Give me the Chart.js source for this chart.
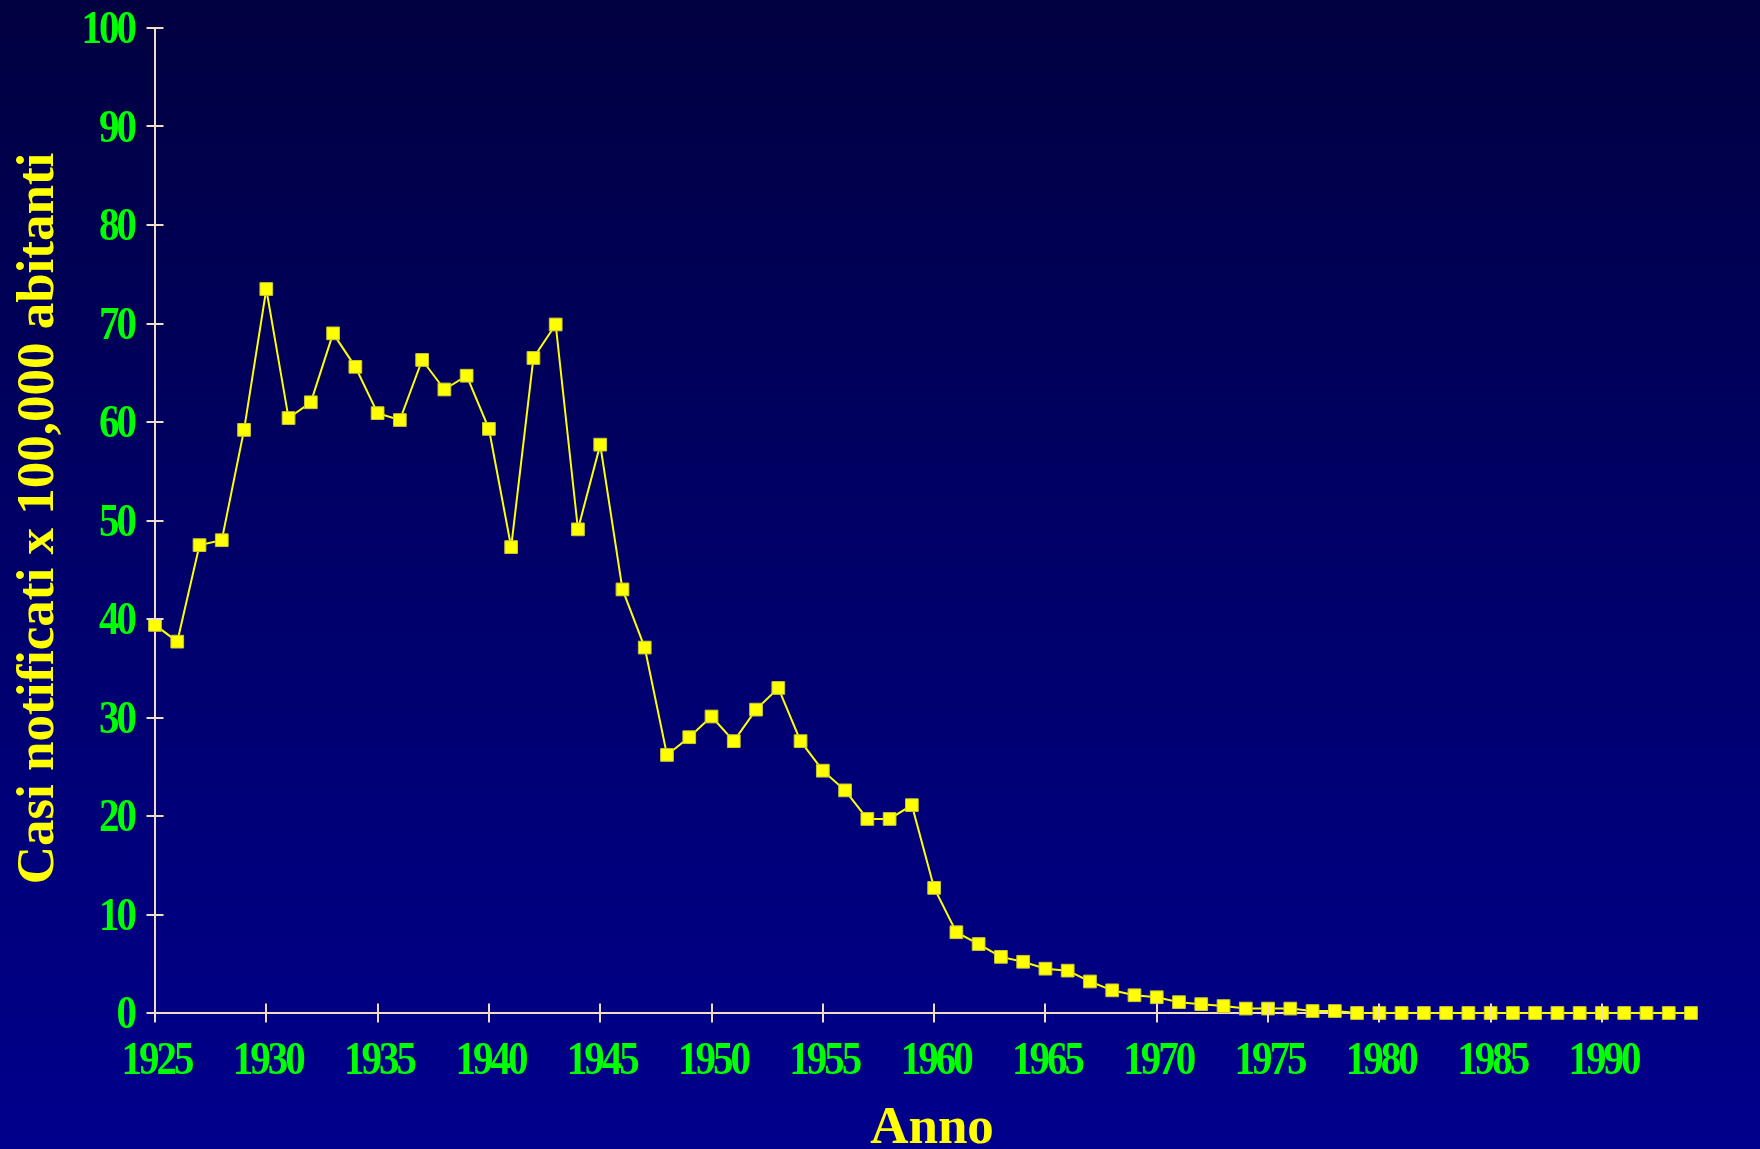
<!DOCTYPE html>
<html lang="it">
<head>
<meta charset="utf-8">
<title>Casi notificati x 100,000 abitanti</title>
<script src="https://cdn.jsdelivr.net/npm/chart.js@4/dist/chart.umd.min.js"></script>
<style>
  html, body { margin: 0; padding: 0; overflow: hidden; }
  body {
    width: 1760px; height: 1149px;
    background: linear-gradient(to bottom, #000040 0%, #00006A 50%, #00008C 100%);
  }
  canvas { display: block; }
</style>
</head>
<body>
<canvas id="chart" width="1760" height="1149"></canvas>
<script>
// Anni di osservazione
const years = [
  1925, 1926, 1927, 1928, 1929, 1930, 1931, 1932, 1933, 1934,
  1935, 1936, 1937, 1938, 1939, 1940, 1941, 1942, 1943, 1944,
  1945, 1946, 1947, 1948, 1949, 1950, 1951, 1952, 1953, 1954,
  1955, 1956, 1957, 1958, 1959, 1960, 1961, 1962, 1963, 1964,
  1965, 1966, 1967, 1968, 1969, 1970, 1971, 1972, 1973, 1974,
  1975, 1976, 1977, 1978, 1979, 1980, 1981, 1982, 1983, 1984,
  1985, 1986, 1987, 1988, 1989, 1990, 1991, 1992, 1993, 1994
];

// Casi notificati per 100.000 abitanti
const cases = [
  39.4, 37.7, 47.5, 48.0, 59.2, 73.5, 60.4, 62.0, 69.0, 65.6,
  60.9, 60.2, 66.3, 63.3, 64.7, 59.3, 47.3, 66.5, 69.9, 49.1,
  57.7, 43.0, 37.1, 26.2, 28.0, 30.1, 27.6, 30.8, 33.0, 27.6,
  24.6, 22.6, 19.7, 19.7, 21.1, 12.7, 8.2, 7.0, 5.7, 5.2,
  4.5, 4.3, 3.2, 2.3, 1.8, 1.6, 1.1, 0.9, 0.7, 0.45,
  0.45, 0.45, 0.2, 0.2, 0, 0, 0, 0, 0, 0,
  0, 0, 0, 0, 0, 0, 0, 0, 0, 0
];

// Etichette degli assi
const xTitle = 'Anno';
const yTitle = 'Casi notificati x 100,000 abitanti';

const AXIS = '#F2DCC4';
const TICK_FONT = 'bold 41px "Liberation Serif", "Times New Roman", serif';
const TITLE_FONT = 'bold 53px "Liberation Serif", "Times New Roman", serif';
const TICK_STRETCH = 1.15;   // cifre alte e strette

// Tacche a croce sugli assi, disegnate sopra i marcatori
const crossTicks = {
  id: 'crossTicks',
  afterDatasetsDraw(chart) {
    const { ctx, chartArea, scales } = chart;
    ctx.save();
    ctx.strokeStyle = AXIS;
    ctx.lineWidth = 2;
    ctx.beginPath();
    scales.x.ticks.forEach(t => {
      const px = Math.round(scales.x.getPixelForValue(t.value));
      ctx.moveTo(px, chartArea.bottom - 9.5);
      ctx.lineTo(px, chartArea.bottom + 9.5);
    });
    scales.y.ticks.forEach(t => {
      const py = Math.round(scales.y.getPixelForValue(t.value));
      ctx.moveTo(chartArea.left - 8.5, py);
      ctx.lineTo(chartArea.left + 8.5, py);
    });
    ctx.stroke();
    ctx.restore();
  }
};

// Etichette numeriche delle tacche, in verde
const tickLabels = {
  id: 'tickLabels',
  afterDraw(chart) {
    const { ctx, chartArea, scales } = chart;
    ctx.save();
    ctx.letterSpacing = '-3px';
    ctx.font = TICK_FONT;
    ctx.fillStyle = '#00FF00';
    ctx.textBaseline = 'alphabetic';

    ctx.textAlign = 'center';
    scales.x.ticks.forEach(t => {
      const px = scales.x.getPixelForValue(t.value);
      ctx.save();
      ctx.translate(px + 1.5, chartArea.bottom + 61);
      ctx.scale(1, TICK_STRETCH);
      ctx.fillText(String(t.value), 0, 0);
      ctx.restore();
    });

    ctx.textAlign = 'right';
    scales.y.ticks.forEach(t => {
      const py = scales.y.getPixelForValue(t.value);
      ctx.save();
      ctx.translate(chartArea.left - 21, py + 15);
      ctx.scale(1, TICK_STRETCH);
      ctx.fillText(String(t.value), 0, 0);
      ctx.restore();
    });
    ctx.restore();
  }
};

// Titoli degli assi in giallo
const axisTitles = {
  id: 'axisTitles',
  afterDraw(chart) {
    const { ctx, chartArea } = chart;
    ctx.save();
    ctx.letterSpacing = '0px';
    ctx.font = TITLE_FONT;
    ctx.fillStyle = '#FFFF00';
    ctx.textAlign = 'center';
    ctx.textBaseline = 'alphabetic';
    ctx.fillText(xTitle, (chartArea.left + chartArea.right) / 2 + 9, 1143);
    ctx.translate(53, (chartArea.top + chartArea.bottom) / 2 - 2);
    ctx.rotate(-Math.PI / 2);
    ctx.fillText(yTitle, 0, 0);
    ctx.restore();
  }
};

new Chart(document.getElementById('chart'), {
  type: 'line',
  data: {
    datasets: [{
      data: years.map((y, i) => ({ x: y, y: cases[i] })),
      borderColor: '#FFFF00',
      borderWidth: 2,
      tension: 0,
      pointStyle: 'rect',
      pointRadius: 9,
      pointBackgroundColor: '#FFFF00',
      pointBorderColor: '#C8C830',
      pointBorderWidth: 1,
      clip: false
    }]
  },
  options: {
    responsive: false,
    animation: false,
    devicePixelRatio: 1,
    layout: { padding: { top: 28, right: 69, left: 0, bottom: 0 } },
    plugins: { legend: { display: false }, tooltip: { enabled: false } },
    scales: {
      x: {
        type: 'linear',
        min: 1925,
        max: 1994,
        grid: { display: false, drawTicks: false, tickLength: 0 },
        border: { display: true, color: AXIS, width: 2 },
        ticks: {
          display: false,
          stepSize: 5,
          includeBounds: false,
          autoSkip: false,
          maxRotation: 0
        },
        afterFit(scale) { scale.height = 136; }
      },
      y: {
        min: 0,
        max: 100,
        grid: { display: false, drawTicks: false, tickLength: 0 },
        border: { display: true, color: AXIS, width: 2 },
        ticks: {
          display: false,
          stepSize: 10
        },
        afterFit(scale) { scale.width = 155; }
      }
    }
  },
  plugins: [crossTicks, tickLabels, axisTitles]
});
</script>
</body>
</html>
